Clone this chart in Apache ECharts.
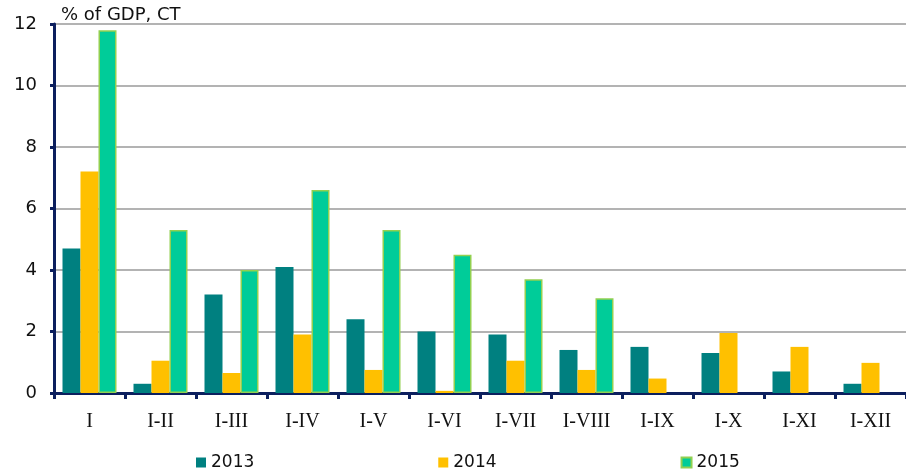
<!DOCTYPE html>
<html>
<head>
<meta charset="utf-8">
<script src="https://cdn.jsdelivr.net/npm/echarts@6/dist/echarts.min.js"></script>
<style>
html,body{margin:0;padding:0;background:#fff;}
#chart{width:906px;height:473px;}
</style>
</head>
<body>
<div id="chart"></div>
<script>
const categories = ['I','I-II','I-III','I-IV','I-V','I-VI','I-VII','I-VIII','I-IX','I-X','I-XI','I-XII'];
const seriesNames = ['2013','2014','2015'];
const values2013 = [4.7, 0.3, 3.2, 4.1, 2.4, 2.0, 1.9, 1.4, 1.5, 1.3, 0.7, 0.3];
const values2014 = [7.2, 1.05, 0.65, 1.9, 0.75, 0.07, 1.05, 0.75, 0.47, 1.95, 1.5, 0.98];
const values2015 = [11.8, 5.3, 4.0, 6.6, 5.3, 4.5, 3.7, 3.08, '-', '-', '-', '-'];
const yTicks = [0, 2, 4, 6, 8, 10, 12];
const unitLabel = '% of GDP, CT';

const axisColor = '#0c1f5e';
const sansFont = 'DejaVu Sans';
const chart = echarts.init(document.getElementById('chart'), null, {renderer:'canvas'});
chart.setOption({
  animation: false,
  backgroundColor: '#ffffff',
  title: {
    text: unitLabel,
    left: 61, top: 6, padding: 0,
    textStyle: {fontFamily: sansFont, fontSize: 18, fontWeight: 'normal', color: '#111'}
  },
  legend: {
    data: seriesNames,
    left: 196, top: 454, padding: 0,
    itemWidth: 10, itemHeight: 10, itemGap: 184,
    icon: 'rect',
    textStyle: {fontFamily: sansFont, fontSize: 17, color: '#111'}
  },
  grid: {left: 54, right: -7, top: 24, bottom: 80, containLabel: false},
  xAxis: {
    type: 'category',
    data: categories,
    axisLine: {lineStyle: {color: axisColor, width: 3}},
    axisTick: {show: true, length: 6, lineStyle: {color: axisColor, width: 3}},
    axisLabel: {fontFamily: 'Liberation Serif', fontSize: 20, color: '#111', margin: 19, interval: 0},
    splitLine: {show: false}
  },
  yAxis: {
    type: 'value',
    min: yTicks[0], max: yTicks[yTicks.length-1], interval: 2,
    axisLine: {show: true, lineStyle: {color: axisColor, width: 3}},
    axisTick: {show: true, length: 4, lineStyle: {color: axisColor, width: 3}},
    axisLabel: {fontFamily: sansFont, fontSize: 18, color: '#111', margin: 17},
    splitLine: {show: true, lineStyle: {color: '#9a9a9a', width: 1.5}}
  },
  series: [
    {name: seriesNames[0], type: 'bar', data: values2013, barWidth: 18, barGap: '0%',
     itemStyle: {color: '#008080'}},
    {name: seriesNames[1], type: 'bar', data: values2014, barWidth: 18, barGap: '0%',
     itemStyle: {color: '#ffc000'}},
    {name: seriesNames[2], type: 'bar', data: values2015, barWidth: 18, barGap: '0%',
     itemStyle: {color: '#00cc99', borderColor: '#92d050', borderWidth: 1.5}}
  ]
});
</script>
</body>
</html>
